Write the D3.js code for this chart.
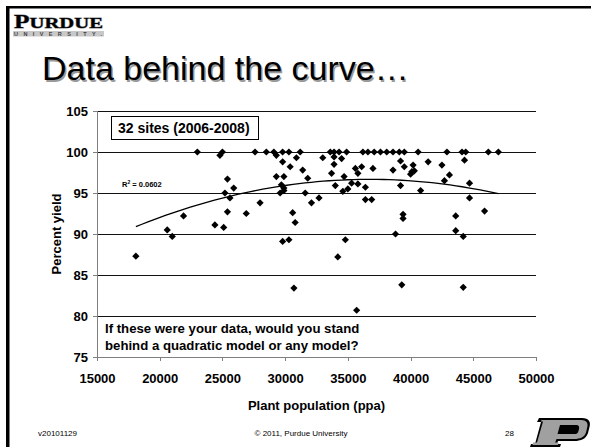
<!DOCTYPE html>
<html>
<head>
<meta charset="utf-8">
<script src="https://cdn.jsdelivr.net/npm/d3@7"></script>
<style>
  body { margin: 0; background: #fff; }
  svg { display: block; font-family: 'Liberation Sans', Arial, sans-serif; }
</style>
</head>
<body>
<div id="chart"></div>
<script>
// Plant population (ppa) for each site-year
const plantPop = [
    23000, 25000, 27600, 28500, 29100, 29800, 30300, 31200, 33600, 33900, 34300, 34900, 36200,
    36600, 37100, 37600, 38100, 38600, 39100, 39500, 40600, 42900, 44100, 44400, 46200, 47000,
    24800, 29300, 30900, 33000, 33900, 34500, 29800, 30400, 31400, 33700, 33900, 35600, 36100,
    37000, 35800, 38600, 29300, 29900, 31800, 34700, 29700, 29900, 34000, 35300, 35800, 36400,
    35000, 34600, 29600, 29900, 31600, 32700, 32100, 36400, 36900, 28000, 26900, 30600, 30800,
    29800, 30300, 34800, 34200, 30700, 35700, 25400, 25900, 25200, 25600, 25400, 21900, 24400,
    25100, 20600, 21000, 18100, 39200, 39500, 40200, 41400, 42500, 44300, 40000, 40100, 40300,
    43100, 42700, 44700, 39200, 40800, 44700, 45900, 39400, 39400, 43600, 43600, 44200, 38800,
    39300, 44200
];
// Percent yield, same order
const pctYield = [
    100, 100, 100, 100, 100, 100, 100, 100, 100, 100, 100, 100, 100,
    100, 100, 100, 100, 100, 100, 100, 100, 100, 100, 100, 100, 100,
    99.6, 99.6, 99.3, 99.3, 99.4, 99.2, 98.8, 98.2, 97.8, 97.4, 98.5, 98.0, 98.2,
    98.0, 97.4, 97.8, 97.0, 97.0, 96.8, 97.0, 96.0, 95.6, 95.9, 96.2, 96.1, 95.7,
    95.5, 95.2, 95.0, 95.3, 95.0, 94.4, 93.8, 94.2, 94.2, 93.8, 92.5, 92.6, 91.4,
    89.1, 89.3, 89.3, 87.2, 83.4, 80.7, 96.7, 95.6, 95.0, 94.4, 92.7, 92.2, 91.1,
    90.8, 90.5, 89.7, 87.3, 98.9, 98.2, 98.4, 98.8, 98.4, 99.0, 97.3, 97.6, 97.7,
    97.2, 96.5, 96.2, 95.9, 95.3, 94.4, 92.8, 92.4, 91.9, 92.2, 90.4, 89.7, 90.0,
    83.8, 83.5
];
const xTicks = [15000, 20000, 25000, 30000, 35000, 40000, 45000, 50000];
const yTicks = [75, 80, 85, 90, 95, 100, 105];

const W = 591, H = 447;
const plot = { left: 97, right: 536, top: 111, bottom: 357 };

const svg = d3.select('#chart').append('svg')
    .attr('width', W)
    .attr('height', H);

// slide frame (top + left rule)
svg.append('rect').attr('x', 7).attr('y', 6).attr('width', W - 7).attr('height', 2.5).attr('fill', '#000');
svg.append('rect').attr('x', 6).attr('y', 6).attr('width', 3.5).attr('height', H - 6).attr('fill', '#000');

// Purdue wordmark, top-left
const logo = svg.append('g');
logo.append('text')
    .attr('x', 14).attr('y', 28)
    .attr('font-family', "'Liberation Serif', 'DejaVu Serif', serif")
    .attr('font-weight', 'bold')
    .attr('textLength', 89)
    .attr('lengthAdjust', 'spacingAndGlyphs')
    .style('paint-order', 'stroke')
    .attr('stroke', '#888').attr('stroke-width', 0.8)
    .call(t => {
        t.append('tspan').attr('font-size', 19).text('P');
        t.append('tspan').attr('font-size', 15.5).text('URDUE');
    });
logo.append('rect').attr('x', 13).attr('y', 31).attr('width', 91).attr('height', 5.5).attr('fill', '#c8c8c8');
logo.append('text')
    .attr('x', 14).attr('y', 36)
    .attr('font-size', 5.5).attr('font-weight', 'bold').attr('fill', '#444')
    .attr('textLength', 88).attr('lengthAdjust', 'spacing')
    .text('UNIVERSITY.');

// Title with soft shadow
const title = 'Data behind the curve\u2026';
svg.append('text')
    .attr('x', 43.5).attr('y', 81.5)
    .attr('font-size', 34).attr('fill', '#9a9a9a')
    .text(title);
svg.append('text')
    .attr('x', 42).attr('y', 80)
    .attr('font-size', 34).attr('fill', '#000')
    .text(title);

// Scales
const x = d3.scaleLinear().domain([15000, 50000]).range([plot.left, plot.right]);
const y = d3.scaleLinear().domain([75, 105]).range([plot.bottom, plot.top]);

// Gridlines
svg.append('g')
    .attr('transform', `translate(${plot.left},0)`)
    .call(d3.axisLeft(y).tickValues(yTicks.filter(d => d > 75)).tickSize(-(plot.right - plot.left)).tickFormat(''))
    .call(g => g.select('.domain').remove())
    .call(g => g.selectAll('line').attr('stroke', '#111').attr('shape-rendering', 'crispEdges'));

// Y axis
svg.append('g')
    .attr('transform', `translate(${plot.left},0)`)
    .call(d3.axisLeft(y).tickValues(yTicks).tickSize(4).tickPadding(5))
    .call(g => g.select('.domain').attr('stroke', '#808080').attr('shape-rendering', 'crispEdges'))
    .call(g => g.selectAll('line').attr('stroke', '#808080').attr('shape-rendering', 'crispEdges'))
    .call(g => g.selectAll('text')
        .attr('font-family', "'Liberation Sans', Arial, sans-serif")
        .attr('font-size', 13).attr('font-weight', 'bold').attr('fill', '#000'));

// X axis
svg.append('g')
    .attr('transform', `translate(0,${plot.bottom})`)
    .call(d3.axisBottom(x).tickValues(xTicks).tickSize(4).tickPadding(13).tickFormat(d3.format('d')))
    .call(g => g.select('.domain').attr('stroke', '#808080').attr('shape-rendering', 'crispEdges'))
    .call(g => g.selectAll('line').attr('stroke', '#808080').attr('shape-rendering', 'crispEdges'))
    .call(g => g.selectAll('text')
        .attr('font-family', "'Liberation Sans', Arial, sans-serif")
        .attr('font-size', 13).attr('font-weight', 'bold').attr('fill', '#000'));

// Axis titles
svg.append('text')
    .attr('x', (plot.left + plot.right) / 2).attr('y', 410)
    .attr('text-anchor', 'middle')
    .attr('font-size', 13).attr('font-weight', 'bold')
    .text('Plant population (ppa)');
svg.append('text')
    .attr('transform', `translate(61,${(plot.top + plot.bottom) / 2}) rotate(-90)`)
    .attr('text-anchor', 'middle')
    .attr('font-size', 13).attr('font-weight', 'bold')
    .text('Percent yield');

// Quadratic trendline (least squares, like the spreadsheet trendline)
const pts = plantPop.map((p, i) => ({ p, v: pctYield[i] }));
function quadFit(data) {
    const s = d => d.p / 10000;
    let S = [0, 0, 0, 0, 0], T = [0, 0, 0];
    data.forEach(d => {
        const u = s(d);
        for (let k = 0; k < 5; k++) S[k] += Math.pow(u, k);
        for (let k = 0; k < 3; k++) T[k] += d.v * Math.pow(u, k);
    });
    const A = [[S[0], S[1], S[2], T[0]], [S[1], S[2], S[3], T[1]], [S[2], S[3], S[4], T[2]]];
    for (let i = 0; i < 3; i++) {
        for (let j = i + 1; j < 3; j++) {
            const f = A[j][i] / A[i][i];
            for (let k = i; k < 4; k++) A[j][k] -= f * A[i][k];
        }
    }
    const c = [0, 0, 0];
    for (let i = 2; i >= 0; i--) {
        let sum = A[i][3];
        for (let k = i + 1; k < 3; k++) sum -= A[i][k] * c[k];
        c[i] = sum / A[i][i];
    }
    return p => { const u = p / 10000; return c[0] + c[1] * u + c[2] * u * u; };
}
const fit = quadFit(pts);
const [pMin, pMax] = d3.extent(plantPop);
const curve = d3.range(0, 61).map(i => {
    const p = pMin + (pMax - pMin) * i / 60;
    return { p, v: fit(p) };
});
svg.append('path')
    .datum(curve)
    .attr('fill', 'none')
    .attr('stroke', '#000')
    .attr('stroke-width', 1.3)
    .attr('d', d3.line().x(d => x(d.p)).y(d => y(d.v)));

// Points
svg.append('g')
    .selectAll('path')
    .data(pts)
    .enter()
    .append('path')
    .attr('d', d3.symbol().type(d3.symbolSquare).size(26))
    .attr('transform', d => `translate(${x(d.p)},${y(d.v)}) rotate(45)`)
    .attr('fill', '#000');

// Annotations
svg.append('rect')
    .attr('x', 111.5).attr('y', 116.5).attr('width', 147).attr('height', 23)
    .attr('fill', '#fff').attr('stroke', '#000').attr('stroke-width', 1);
svg.append('text')
    .attr('x', 118).attr('y', 133)
    .attr('font-size', 14).attr('font-weight', 'bold')
    .text('32 sites (2006-2008)');

svg.append('text')
    .attr('x', 122).attr('y', 187)
    .attr('font-size', 7.5).attr('font-weight', 'bold')
    .call(t => {
        t.append('tspan').text('R');
        t.append('tspan').attr('font-size', 5).attr('dy', -3).text('2');
        t.append('tspan').attr('dy', 3).text(' = 0.0602');
    });

const note = ['If these were your data, would you stand', 'behind a quadratic model or any model?'];
svg.append('g')
    .selectAll('text')
    .data(note)
    .enter()
    .append('text')
    .attr('x', 105)
    .attr('y', (d, i) => 333 + i * 16.5)
    .attr('font-size', 13.2).attr('font-weight', 'bold')
    .text(d => d);

// Footer
svg.append('text').attr('x', 38).attr('y', 436).attr('font-size', 8).text('v20101129');
svg.append('text').attr('x', 301).attr('y', 436).attr('font-size', 8).attr('text-anchor', 'middle')
    .text('\u00a9 2011, Purdue University');
svg.append('text').attr('x', 505).attr('y', 436).attr('font-size', 8).text('28');

// Purdue motion P, bottom-right
const pLogo = svg.append('g').attr('transform', 'translate(530,418)');
pLogo.append('path')
    .attr('d', 'M9,0 H52 C59,0 61,4 59.5,9 L58,15 C56,21 51,23 44,23 H28 L27,26 H31 L30,29 H0 L1,26 H5 L11,4 H7 Z')
    .attr('fill', '#000');
pLogo.append('path')
    .attr('d', 'M11.5,2 H51 C56.5,2 58.3,5 57.3,9 L56,14.5 C54.5,19 50.5,21 44,21 H26.5 L25.2,24.5 H28.5 L28,27 H2.5 L3,24.5 H7 L13,3.6 H11 Z')
    .attr('fill', '#a0a0a0');
pLogo.append('path')
    .attr('d', 'M30,7 H46 C49,7 49.5,9 49,11 L48.3,13.5 C47.8,15.5 46.5,16 44.5,16 H27.5 Z')
    .attr('fill', '#000');
</script>
</body>
</html>
